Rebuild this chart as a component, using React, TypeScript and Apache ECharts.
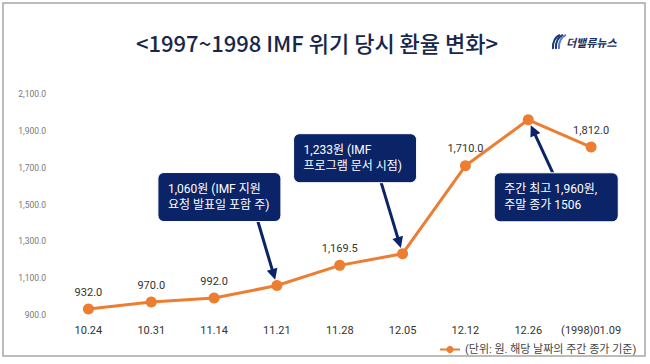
import React, { useEffect, useRef } from "react";
import * as echarts from "echarts";

const categories = ["10.24", "10.31", "11.14", "11.21", "11.28", "12.05", "12.12", "12.26", "(1998)01.09"];
const rates = [932, 970, 992, 1060, 1169.5, 1233, 1710, 1960, 1812];
const showValueLabel = [true, true, true, false, true, false, true, false, true];
const yMin = 900;
const yMax = 2100;
const yInterval = 200;
const seriesName = "(단위: 원. 해당 날짜의 주간 종가 기준)";
const titleText = "<1997~1998 IMF 위기 당시 환율 변화>";

const callouts = [
  { index: 3, lines: ["1,060원 (IMF 지원", "요청 발표일 포함 주)"], box: [-119, -113, 123, 49], start: [-19, -64] },
  { index: 5, lines: ["1,233원 (IMF", "프로그램 문서 시점)"], box: [-109, -120, 123, 49], start: [-22, -73] },
  { index: 7, lines: ["주간 최고 1,960원,", "주말 종가 1506"], box: [-34, 53, 124, 49], start: [25, 54] },
];

const fmt = (v: number) =>
  v.toLocaleString("en-US", { minimumFractionDigits: 1, maximumFractionDigits: 1 });

const NAVY = "#0b2468";
const ORANGE = "#ed7d31";
const FONT = "Roboto, 'Noto Sans CJK KR', sans-serif";

export default function App() {
  const ref = useRef<HTMLDivElement>(null);
  useEffect(() => {
    const chart = echarts.init(ref.current!, null, { renderer: "svg" });
    chart.setOption({
      animation: false,
      backgroundColor: "#ffffff",
      grid: { left: 57, right: 27.5, top: 94, bottom: 49, containLabel: false },
      xAxis: {
        type: "category",
        data: categories,
        boundaryGap: true,
        axisLine: { show: false },
        axisTick: { show: false },
        axisLabel: { color: "#333", fontSize: 11, fontFamily: FONT, margin: 10, interval: 0 },
      },
      yAxis: {
        type: "value",
        min: yMin,
        max: yMax,
        interval: yInterval,
        splitLine: { show: false },
        axisLine: { show: false },
        axisTick: { show: false },
        axisLabel: { color: "#777", fontSize: 8.5, fontFamily: FONT, margin: 11, formatter: (v: number) => fmt(v) },
      },
      legend: {
        left: 434,
        top: 339,
        itemWidth: 20,
        itemHeight: 9,
        textStyle: { color: "#444", fontSize: 11, fontFamily: FONT },
        data: [seriesName],
      },
      series: [
        {
          name: seriesName,
          type: "line",
          data: rates.map((v, i) => ({
            value: v,
            label: { show: showValueLabel[i] },
          })),
          symbol: "circle",
          symbolSize: 11,
          lineStyle: { color: ORANGE, width: 3 },
          itemStyle: { color: ORANGE },
          label: {
            show: true,
            position: "top",
            distance: 6,
            color: "#333",
            fontSize: 11,
            fontFamily: FONT,
            formatter: (p: any) => fmt(p.value),
          },
        },
      ],
    });

    const graphics: any[] = [
      {
        type: "rect",
        shape: { x: 3, y: 3, width: 642, height: 353 },
        style: { fill: "none", stroke: "#a6a6a6", lineWidth: 1.5 },
        silent: true,
      },
      {
        type: "text",
        x: 317,
        y: 42,
        style: {
          text: titleText,
          fill: "#18264a",
          font: "500 22px 'Noto Sans CJK KR', sans-serif",
          textAlign: "center",
          textVerticalAlign: "middle",
        },
      },
      // logo
      ...[0, 1, 2].map((k) => ({
        type: "bezierCurve",
        shape: {
          x1: 553 + k * 3, y1: 49,
          x2: 560 + k * 3, y2: 35,
          cpx1: 552 + k * 3, cpy1: 42,
          cpx2: 556 + k * 3, cpy2: 36,
        },
        style: { stroke: k === 2 ? "#5b7fc4" : "#1d3a7a", lineWidth: 2, fill: "none" },
      })),
      {
        type: "text",
        x: 566,
        y: 42,
        style: {
          text: "더밸류뉴스",
          fill: "#1d2f5e",
          font: "italic bold 11px 'Noto Sans CJK KR', sans-serif",
          textVerticalAlign: "middle",
        },
      },
    ];

    callouts.forEach((c) => {
      const p = chart.convertToPixel({ seriesIndex: 0 }, [c.index, rates[c.index]]) as number[];
      const [bx, by, bw, bh] = c.box;
      const sx = p[0] + c.start[0];
      const sy = p[1] + c.start[1];
      const dx = p[0] - sx;
      const dy = p[1] - sy;
      const len = Math.sqrt(dx * dx + dy * dy);
      const ux = dx / len;
      const uy = dy / len;
      const tx = p[0] - ux * 6;
      const ty = p[1] - uy * 6;
      const hl = 11;
      const hw = 5.5;
      const cx = tx - ux * hl;
      const cy = ty - uy * hl;
      const nx = -uy;
      const ny = ux;
      graphics.push({
        type: "line",
        shape: { x1: sx, y1: sy, x2: cx + ux * 1, y2: cy + uy * 1 },
        style: { stroke: NAVY, lineWidth: 3 },
        z: 10,
      });
      graphics.push({
        type: "polygon",
        shape: {
          points: [
            [tx, ty],
            [cx + nx * hw, cy + ny * hw],
            [cx - nx * hw, cy - ny * hw],
          ],
        },
        style: { fill: NAVY },
        z: 10,
      });
      graphics.push({
        type: "rect",
        shape: { x: p[0] + bx, y: p[1] + by, width: bw, height: bh, r: 6 },
        style: { fill: NAVY, stroke: "#ffffff", lineWidth: 1 },
        z: 11,
      });
      graphics.push({
        type: "text",
        x: p[0] + bx + 10,
        y: p[1] + by + bh / 2,
        style: {
          text: c.lines.join("\n"),
          fill: "#ffffff",
          font: "12px Roboto, 'Noto Sans CJK KR', sans-serif",
          lineHeight: 16,
          textVerticalAlign: "middle",
        },
        z: 12,
      });
    });

    chart.setOption({ graphic: graphics });
    return () => chart.dispose();
  }, []);

  return (
    <div
      ref={ref}
      style={{ position: "fixed", left: 0, top: 0, width: 650, height: 364, background: "#fff" }}
    />
  );
}
